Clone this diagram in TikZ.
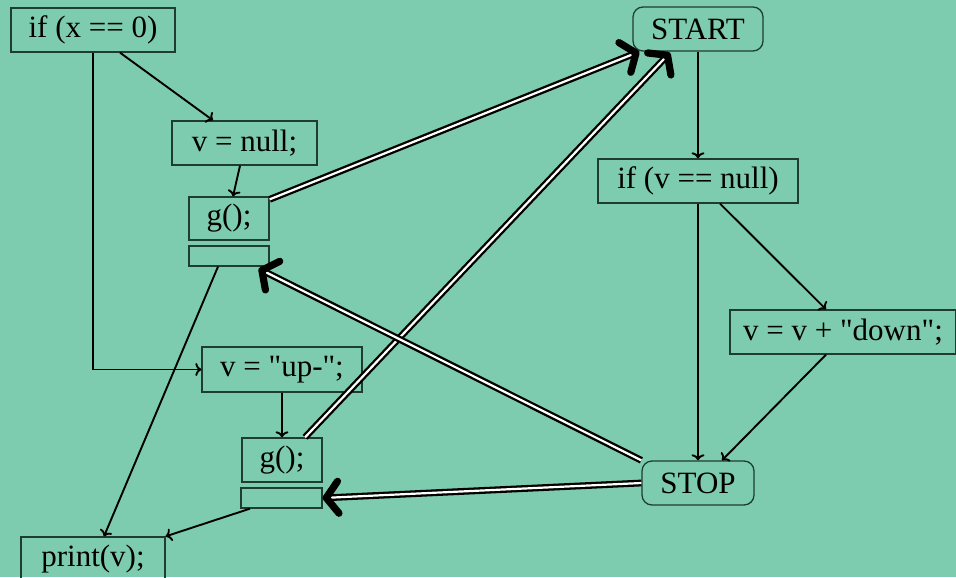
\documentclass[tikz,border=0pt]{standalone}
\usepackage{fontspec}
\setmainfont{Liberation Serif}
\usetikzlibrary{arrows.meta,calc}
\definecolor{bg}{HTML}{7ECCB0}
\definecolor{edge}{HTML}{1E3D30}
\font\plainqfont="Liberation Serif" at 15.5pt
\newcommand{\dq}{{\plainqfont\char34}}
\tikzset{
  box/.style={draw=edge, line width=0.65pt, inner sep=0pt, align=center, font=\fontsize{15.5}{17}\selectfont},
  rbox/.style={box, rounded corners=5pt},
  arr/.style={line width=0.95pt, -{To[length=3pt,width=6.5pt]}},
  dbl/.style={draw=black, double=white, line width=1.15pt, double distance=1.1pt,
     -{Straight Barb[round,line width=3.6pt,length=6pt,width=16pt]}},
}
\begin{document}
\begin{tikzpicture}[x=0.5pt,y=-0.5pt]
\fill[bg] (0,0) rectangle (956,577);
\useasboundingbox (0,0) rectangle (956,577);
% nodes
\node[box, minimum width=82pt, minimum height=22pt] (ifx) at (93,30) {if (x == 0)};
\node[box, minimum width=72.5pt, minimum height=22pt] (vnull) at (244.5,143) {v = null;};
\node[box, minimum width=40pt, minimum height=21.5pt] (g1) at (229,218.5) {g();};
\node[box, minimum width=40pt, minimum height=10pt] (g1r) at (229,256) {};
\node[box, minimum width=80pt, minimum height=22.5pt] (vup) at (282,369.5) {v = \dq up-\dq;};
\node[box, minimum width=40pt, minimum height=22pt] (g2) at (282,460) {g();};
\node[box, minimum width=40.5pt, minimum height=10pt] (g2r) at (281.5,498) {};
\node[box, minimum width=72pt, minimum height=22pt] (print) at (93,559) {print(v);};
\node[rbox, minimum width=65pt, minimum height=22pt] (start) at (698,29) {START};
\node[box, minimum width=100pt, minimum height=22pt] (ifv) at (698,181) {if (v == null)};
\node[box, minimum width=113pt, minimum height=22pt] (vdown) at (843,332) {v = v + \dq down\dq;};
\node[rbox, minimum width=56pt, minimum height=22pt] (stop) at (698,483) {STOP};
% thin connectors
\draw[arr] ([shift={(27,0)}]ifx.south) -- ([shift={(-31.5,0)}]vnull.north);
\draw[arr] (ifx.south) |- (vup.west);
\draw[arr] ([shift={(-4.5,0)}]vnull.south) -- ([shift={(4,0)}]g1.north);
\draw[arr] ([shift={(-11,0)}]g1r.south) -- ([shift={(11,0)}]print.north);
\draw[arr] (vup.south) -- (g2.north);
\draw[arr] ([shift={(-31.5,0)}]g2r.south) -- (print.north east);
\draw[arr] (start.south) -- (ifv.north);
\draw[arr] ([shift={(22,0)}]ifv.south) -- ([shift={(-17,0)}]vdown.north);
\draw[arr] (ifv.south) -- (stop.north);
\draw[arr] ([shift={(-17,0)}]vdown.south) -- ([shift={(24,0)}]stop.north);
% double connectors
\draw[dbl] ([shift={(0,3)}]g1.north east) -- ([shift={(7,0)}]start.south west);
\draw[dbl] ([shift={(23,0)}]g2.north) -- ([shift={(-28,1)}]start.south);
\draw[dbl] (stop.north west) -- ([shift={(-11,2)}]g1r.south east);
\draw[dbl] (stop.west) -- (g2r.east);
\end{tikzpicture}
\end{document}
